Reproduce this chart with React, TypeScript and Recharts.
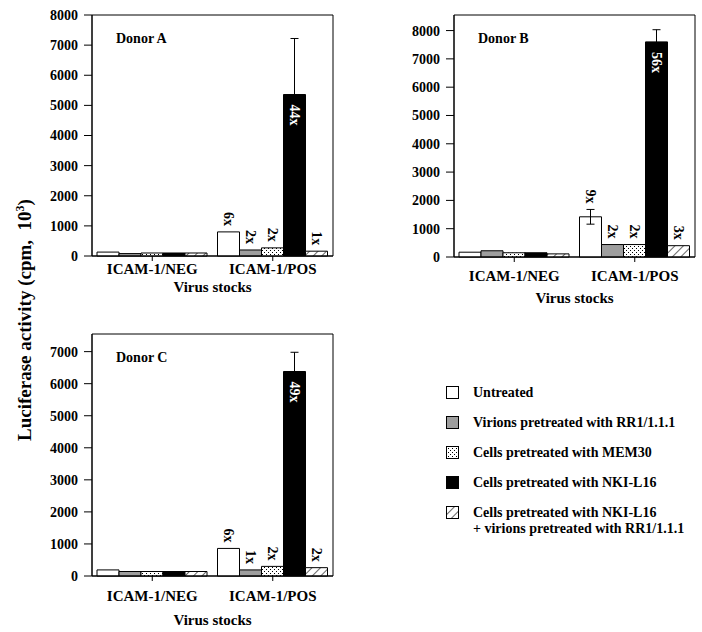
import { BarChart, Bar, XAxis, YAxis, ErrorBar, LabelList, ReferenceArea, Label } from 'recharts';

const FONT = "'Liberation Serif', 'Times New Roman', serif";

const categories = ['ICAM-1/NEG', 'ICAM-1/POS'];
const seriesNames = [
  'Untreated',
  'Virions pretreated with RR1/1.1.1',
  'Cells pretreated with MEM30',
  'Cells pretreated with NKI-L16',
  'Cells pretreated with NKI-L16\n+ virions pretreated with RR1/1.1.1',
];

// values in cpm x 10^3, order follows seriesNames
const donorANeg = [130, 80, 100, 100, 100];
const donorAPos = [800, 200, 270, 5360, 160];
const donorAPosErr = [0, 0, 0, 1860, 0];
const donorAFold = ['6x', '2x', '2x', '44x', '1x'];

const donorBNeg = [170, 220, 150, 150, 110];
const donorBPos = [1420, 440, 440, 7600, 400];
const donorBPosErr = [260, 0, 0, 430, 0];
const donorBFold = ['9x', '2x', '2x', '56x', '3x'];

const donorCNeg = [190, 140, 140, 140, 140];
const donorCPos = [860, 190, 300, 6380, 260];
const donorCPosErr = [0, 0, 0, 600, 0];
const donorCFold = ['6x', '1x', '2x', '49x', '2x'];

const ticks8000 = [0, 1000, 2000, 3000, 4000, 5000, 6000, 7000, 8000];
const ticks7000 = [0, 1000, 2000, 3000, 4000, 5000, 6000, 7000];

const fillFor = (id: string, i: number) =>
  ['#fff', '#9e9e9e', `url(#dots-${id})`, '#000', `url(#hatch-${id})`][i];

function Patterns({ id }: { id: string }) {
  return (
    <defs>
      <pattern id={`dots-${id}`} patternUnits="userSpaceOnUse" width={4} height={4}>
        <rect width={4} height={4} fill="#fff" />
        <rect x={0} y={0} width={1} height={1} fill="#000" />
        <rect x={2} y={2} width={1} height={1} fill="#000" />
      </pattern>
      <pattern id={`hatch-${id}`} patternUnits="userSpaceOnUse" width={6} height={6} patternTransform="rotate(45)">
        <rect width={6} height={6} fill="#fff" />
        <line x1={0} y1={0} x2={0} y2={6} stroke="#000" strokeWidth={1.2} />
      </pattern>
    </defs>
  );
}

interface PanelProps {
  id: string;
  title: string;
  neg: number[];
  pos: number[];
  err: number[];
  fold: string[];
  yMax: number;
  yTicks: number[];
  left: number;
  top: number;
  width: number;
  height: number;
  yAxisWidth: number;
  xAxisHeight: number;
  xTickMargin: number;
  xLabelOffset: number;
}

function Panel(p: PanelProps) {
  const rows = categories.map((cat, ci) => {
    const row: Record<string, string | number> = { cat };
    const vals = ci === 0 ? p.neg : p.pos;
    vals.forEach((v, i) => {
      row[`s${i}`] = v;
      if (ci === 1) {
        if (p.err[i]) row[`e${i}`] = p.err[i];
        row[`f${i}`] = p.fold[i];
      }
    });
    return row;
  });

  // fold-increase labels, rotated; inside the black bar, above the others
  const renderFold = (i: number) => (props: any) => {
    const vb = props.viewBox ?? props;
    const value = props.value;
    if (!value || props.index == null) return null;
    const row = rows[props.index];
    const x = Number(vb.x);
    const y = Number(vb.y);
    const w = Number(vb.width);
    const h = Math.abs(Number(vb.height));
    const cx = x + w / 2;
    const inside = i === 3;
    let ty: number;
    if (inside) {
      ty = y + 10;
    } else {
      const e = Number(row[`e${i}`] || 0);
      const ppu = h / Number(row[`s${i}`]);
      ty = y - e * ppu - 6;
    }
    return (
      <text
        x={cx}
        y={ty}
        transform={`rotate(90 ${cx} ${ty})`}
        textAnchor={inside ? 'start' : 'end'}
        dominantBaseline="central"
        fill={inside ? '#fff' : '#000'}
        fontSize={14}
        fontWeight="bold"
        fontFamily={FONT}
      >
        {value}
      </text>
    );
  };

  const tickStyle = { fill: '#000', fontSize: 14, fontWeight: 'bold', fontFamily: FONT };

  return (
    <div style={{ position: 'absolute', left: p.left, top: p.top }}>
      <BarChart
        width={p.width}
        height={p.height}
        data={rows}
        margin={{ top: 15, right: 7, left: 0, bottom: 0 }}
        barCategoryGap={5}
        barGap={0}
      >
        <Patterns id={p.id} />
        <XAxis
          dataKey="cat"
          interval={0}
          height={p.xAxisHeight}
          tickSize={5}
          tickMargin={p.xTickMargin}
          axisLine={{ stroke: '#000' }}
          tickLine={{ stroke: '#000' }}
          tick={{ ...tickStyle, fontSize: 15 }}
        >
          <Label
            value="Virus stocks"
            position="insideBottom"
            offset={p.xLabelOffset}
            fill="#000"
            fontSize={15}
            fontWeight="bold"
            fontFamily={FONT}
          />
        </XAxis>
        <YAxis
          type="number"
          domain={[0, p.yMax]}
          ticks={p.yTicks}
          width={p.yAxisWidth}
          tickSize={8}
          tickMargin={6}
          axisLine={{ stroke: '#000' }}
          tickLine={{ stroke: '#000' }}
          tick={tickStyle}
        />
        {seriesNames.map((name, i) => (
          <Bar
            key={name}
            dataKey={`s${i}`}
            name={name}
            fill={fillFor(p.id, i)}
            stroke="#000"
            strokeWidth={1}
            isAnimationActive={false}
          >
            <ErrorBar dataKey={`e${i}`} direction="y" width={4} stroke="#000" strokeWidth={1} />
            <LabelList dataKey={`f${i}`} content={renderFold(i)} />
          </Bar>
        ))}
        <ReferenceArea y1={0} y2={p.yMax} fill="none" stroke="#000" strokeWidth={1} ifOverflow="visible">
          <Label
            value={p.title}
            position="insideTopLeft"
            offset={18}
            dx={6}
            fill="#000"
            fontSize={14}
            fontWeight="bold"
            fontFamily={FONT}
          />
        </ReferenceArea>
      </BarChart>
    </div>
  );
}

function Swatch({ i }: { i: number }) {
  return (
    <svg width={14} height={14} style={{ display: 'block' }}>
      <Patterns id={`leg${i}`} />
      <rect x={0.5} y={0.5} width={12} height={12} fill={fillFor(`leg${i}`, i)} stroke="#000" />
    </svg>
  );
}

function Legend() {
  return (
    <div
      style={{
        position: 'absolute',
        left: 446,
        top: 385,
        fontFamily: FONT,
        fontWeight: 'bold',
        fontSize: 14,
        lineHeight: '16px',
        color: '#000',
      }}
    >
      {seriesNames.map((name, i) => (
        <div key={name} style={{ display: 'flex', alignItems: 'flex-start', marginBottom: 14 }}>
          <div style={{ width: 27, paddingTop: 1 }}>
            <Swatch i={i} />
          </div>
          <div style={{ whiteSpace: 'pre' }}>{name}</div>
        </div>
      ))}
    </div>
  );
}

export default function App() {
  return (
    <div style={{ position: 'absolute', left: 0, top: 0, width: 702, height: 632, background: '#fff' }}>
      <Panel
        id="A"
        title="Donor A"
        neg={donorANeg}
        pos={donorAPos}
        err={donorAPosErr}
        fold={donorAFold}
        yMax={8000}
        yTicks={ticks8000}
        left={0}
        top={0}
        width={340}
        height={300}
        yAxisWidth={92}
        xAxisHeight={44}
        xTickMargin={2}
        xLabelOffset={8}
      />
      <Panel
        id="B"
        title="Donor B"
        neg={donorBNeg}
        pos={donorBPos}
        err={donorBPosErr}
        fold={donorBFold}
        yMax={8550}
        yTicks={ticks8000}
        left={360}
        top={0}
        width={342}
        height={310}
        yAxisWidth={94}
        xAxisHeight={53}
        xTickMargin={8}
        xLabelOffset={7}
      />
      <Panel
        id="C"
        title="Donor C"
        neg={donorCNeg}
        pos={donorCPos}
        err={donorCPosErr}
        fold={donorCFold}
        yMax={7550}
        yTicks={ticks7000}
        left={0}
        top={319}
        width={340}
        height={313}
        yAxisWidth={92}
        xAxisHeight={56}
        xTickMargin={9}
        xLabelOffset={7}
      />
      <Legend />
      <div
        style={{
          position: 'absolute',
          left: 20 - 160,
          top: 320 - 11,
          width: 320,
          height: 22,
          lineHeight: '22px',
          textAlign: 'center',
          transform: 'rotate(-90deg)',
          fontFamily: FONT,
          fontWeight: 'bold',
          fontSize: 19,
          color: '#000',
          whiteSpace: 'nowrap',
        }}
      >
        Luciferase activity (cpm,&nbsp; 10<sup style={{ fontSize: 12 }}>3</sup>)
      </div>
    </div>
  );
}
